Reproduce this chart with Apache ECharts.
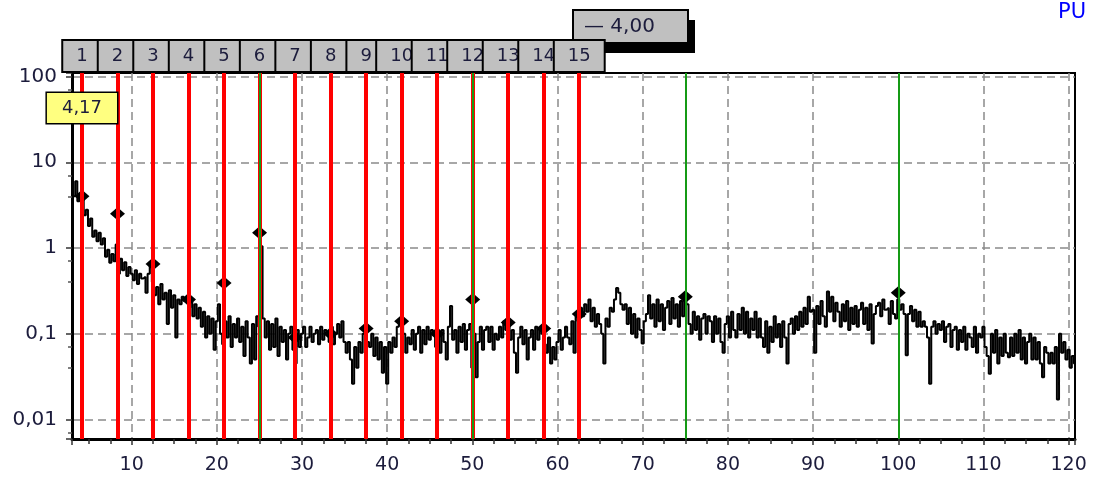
<!DOCTYPE html>
<html><head><meta charset="utf-8">
<script src="https://cdn.jsdelivr.net/npm/echarts@6/dist/echarts.min.js"></script>
<style>html,body{margin:0;padding:0;background:#fff;overflow:hidden}#c{width:1094px;height:485px}</style>
</head><body><div id="c"></div>
<script>
// Spectrum: frequency bins start at FREQ_START, spaced FREQ_STEP
const FREQ_START = 3.0;
const FREQ_STEP = 0.25;
const SPECTRUM = [
  5.5, 4.0, 6.0, 3.5, 4.2, 3.8, 2.4, 2.8, 1.8, 2.2, 1.35, 1.6, 1.2, 1.5, 1.1, 1.3, 0.79, 0.95, 0.67, 0.85,
  0.7, 1.1, 0.5, 0.75, 0.55, 0.68, 0.47, 0.6, 0.5, 0.42, 0.55, 0.38, 0.5, 0.44, 0.46, 0.3, 0.5, 0.65, 0.4, 0.28,
  0.35, 0.22, 0.38, 0.25, 0.3, 0.13, 0.32, 0.2, 0.28, 0.09, 0.25, 0.22, 0.27, 0.24, 0.26, 0.2, 0.25, 0.16, 0.22, 0.15,
  0.2, 0.12, 0.18, 0.09, 0.16, 0.1, 0.15, 0.065, 0.14, 0.22, 0.1, 0.075, 0.14, 0.09, 0.16, 0.07, 0.13, 0.09, 0.15, 0.08,
  0.12, 0.055, 0.14, 0.09, 0.045, 0.13, 0.05, 0.16, 0.12, 1.05, 0.15, 0.09, 0.14, 0.065, 0.13, 0.07, 0.15, 0.055, 0.12, 0.08,
  0.11, 0.05, 0.1, 0.12, 0.065, 0.045, 0.11, 0.07, 0.1, 0.12, 0.07, 0.09, 0.12, 0.08, 0.1, 0.11, 0.075, 0.12, 0.085, 0.11,
  0.1, 0.08, 0.12, 0.075, 0.1, 0.13, 0.09, 0.14, 0.08, 0.06, 0.08, 0.05, 0.026, 0.07, 0.04, 0.08, 0.06, 0.1, 0.12, 0.08,
  0.07, 0.1, 0.055, 0.09, 0.05, 0.08, 0.035, 0.07, 0.026, 0.08, 0.06, 0.09, 0.07, 0.12, 0.14, 0.13, 0.1, 0.06, 0.09, 0.075,
  0.11, 0.065, 0.1, 0.12, 0.06, 0.11, 0.075, 0.12, 0.085, 0.11, 0.1, 0.07, 0.1, 0.06, 0.11, 0.08, 0.05, 0.12, 0.21, 0.085,
  0.11, 0.06, 0.12, 0.08, 0.13, 0.065, 0.11, 0.13, 0.04, 0.1, 0.031, 0.08, 0.12, 0.065, 0.11, 0.12, 0.08, 0.12, 0.065, 0.1,
  0.085, 0.12, 0.09, 0.14, 0.11, 0.13, 0.085, 0.11, 0.06, 0.035, 0.09, 0.12, 0.075, 0.11, 0.05, 0.09, 0.11, 0.065, 0.12, 0.085,
  0.11, 0.1, 0.075, 0.06, 0.09, 0.045, 0.07, 0.05, 0.08, 0.11, 0.065, 0.09, 0.12, 0.09, 0.075, 0.14, 0.06, 0.17, 0.14, 0.2,
  0.16, 0.22, 0.18, 0.25, 0.14, 0.2, 0.12, 0.17, 0.13, 0.1, 0.045, 0.15, 0.12, 0.2, 0.18, 0.25, 0.34, 0.3, 0.22, 0.19,
  0.22, 0.13, 0.2, 0.1, 0.17, 0.09, 0.15, 0.11, 0.077, 0.14, 0.17, 0.28, 0.15, 0.22, 0.12, 0.25, 0.14, 0.22, 0.11, 0.2,
  0.24, 0.13, 0.26, 0.15, 0.22, 0.12, 0.24, 0.16, 0.27, 0.22, 0.13, 0.1, 0.18, 0.11, 0.16, 0.085, 0.15, 0.17, 0.1, 0.16,
  0.14, 0.08, 0.16, 0.1, 0.15, 0.08, 0.06, 0.13, 0.16, 0.09, 0.18, 0.11, 0.09, 0.17, 0.11, 0.2, 0.1, 0.18, 0.09, 0.15,
  0.11, 0.18, 0.09, 0.15, 0.09, 0.07, 0.14, 0.06, 0.12, 0.08, 0.16, 0.09, 0.13, 0.07, 0.14, 0.09, 0.045, 0.13, 0.15, 0.1,
  0.16, 0.11, 0.18, 0.12, 0.2, 0.13, 0.27, 0.18, 0.19, 0.06, 0.21, 0.13, 0.24, 0.16, 0.12, 0.31, 0.18, 0.27, 0.14, 0.23,
  0.18, 0.12, 0.22, 0.14, 0.24, 0.11, 0.2, 0.13, 0.21, 0.12, 0.19, 0.23, 0.13, 0.2, 0.11, 0.22, 0.077, 0.17, 0.21, 0.23,
  0.16, 0.25, 0.19, 0.2, 0.13, 0.24, 0.17, 0.15, 0.25, 0.19, 0.22, 0.17, 0.056, 0.17, 0.21, 0.14, 0.19, 0.12, 0.18, 0.12,
  0.14, 0.12, 0.09, 0.026, 0.12, 0.14, 0.1, 0.13, 0.11, 0.14, 0.08, 0.12, 0.13, 0.07, 0.11, 0.12, 0.065, 0.11, 0.08, 0.12,
  0.065, 0.1, 0.09, 0.07, 0.12, 0.06, 0.1, 0.09, 0.12, 0.07, 0.055, 0.034, 0.1, 0.06, 0.11, 0.045, 0.09, 0.055, 0.1, 0.06,
  0.053, 0.09, 0.055, 0.1, 0.06, 0.11, 0.05, 0.09, 0.045, 0.08, 0.1, 0.05, 0.09, 0.05, 0.08, 0.045, 0.031, 0.07, 0.06, 0.045,
  0.06, 0.045, 0.07, 0.017, 0.1, 0.06, 0.08, 0.05, 0.065, 0.04, 0.055, 0.045
];

// Harmonic cursor lines (red) and their labels / peak readings
const HARMONICS = [4.17, 8.34, 12.51, 16.68, 20.85, 25.02, 29.19, 33.36, 37.53, 41.70, 45.87, 50.04, 54.21, 58.38, 62.55];
const HARMONIC_LABELS = ['1','2','3','4','5','6','7','8','9','10','11','12','13','14','15'];
const HARMONIC_PEAKS = [4.0, 2.5, 0.65, 0.25, 0.39, 1.5, 0.09, 0.1, 0.115, 0.14, 0.1, 0.25, 0.135, 0.115, 0.17];

// Green reference lines and their peak markers
const GREEN_LINES = [25, 50, 75, 100];
const GREEN_MARK_X = [75, 100];
const GREEN_MARK_Y = [0.27, 0.3];

// Axis tick labels
const Y_TICK_LABELS = {'-2': '0,01', '-1': '0,1', '0': '1', '1': '10', '2': '100'};
const X_TICK_VALUES = [10, 20, 30, 40, 50, 60, 70, 80, 90, 100, 110, 120];

// Readouts
const CURSOR_FREQ = HARMONICS[0];
const CURSOR_VALUE_TEXT = '— 4,00';
const CORNER_TEXT = 'PU';

const FONT = 'DejaVu Sans';
const TXT = '#1c1c3c';

const chart = echarts.init(document.getElementById('c'), null, {renderer: 'canvas'});

const spectrumData = SPECTRUM.map((v, i) => [FREQ_START + i * FREQ_STEP, v]);
const markerData = HARMONICS.map((h, i) => [h, HARMONIC_PEAKS[i]])
  .concat(GREEN_MARK_X.map((x, i) => [x, GREEN_MARK_Y[i]]));

const option = {
  animation: false,
  grid: {left: 72, right: 19, top: 73, bottom: 46, show: true, borderColor: '#000', borderWidth: 2, backgroundColor: 'transparent'},
  xAxis: {
    type: 'value', min: 3, max: 120.75, splitNumber: 12,
    axisLine: {show: true, onZero: false, lineStyle: {color: '#000', width: 3}},
    axisTick: {show: true, inside: false, length: 6, lineStyle: {color: '#333', width: 1.5}},
    minorTick: {show: true, splitNumber: 4, length: 5, lineStyle: {color: '#333', width: 1.5}},
    splitLine: {show: true, showMinLine: false, showMaxLine: false, lineStyle: {color: '#8a8a8a', width: 1.5, type: [8, 5]}},
    axisLabel: {
      showMinLabel: false, showMaxLabel: false, margin: 17,
      fontFamily: FONT, fontSize: 19, color: TXT,
      formatter: v => X_TICK_VALUES.indexOf(Math.round(v * 100) / 100) >= 0 ? String(Math.round(v)) : ''
    }
  },
  yAxis: {
    type: 'log', logBase: 10, min: 0.0059, max: 110,
    axisLine: {show: true, onZero: false, lineStyle: {color: '#000', width: 3}},
    axisTick: {show: true, inside: false, length: 6, lineStyle: {color: '#333', width: 1.5}},
    minorTick: {show: true, splitNumber: 3, length: 4, lineStyle: {color: '#555', width: 1.5}},
    splitLine: {show: true, showMinLine: false, showMaxLine: false, lineStyle: {color: '#8a8a8a', width: 1.5, type: [8, 5]}},
    axisLabel: {
      showMinLabel: false, showMaxLabel: false, margin: 15,
      fontFamily: FONT, fontSize: 20, color: TXT,
      formatter: v => {
        const e = Math.log10(v);
        if (Math.abs(e - Math.round(e)) > 1e-6) return '';
        return Y_TICK_LABELS[String(Math.round(e))] || '';
      }
    }
  },
  graphic: [
    {type: 'rect', z: 0, shape: {x: 580, y: 20, width: 115, height: 33}, style: {fill: '#000'}},
    {type: 'rect', z: 0, shape: {x: 573, y: 10, width: 115, height: 33}, style: {fill: '#c0c0c0', stroke: '#000', lineWidth: 2}},
    {type: 'text', z: 0, x: 584, y: 27, style: {text: CURSOR_VALUE_TEXT, font: '20px "DejaVu Sans"', fill: TXT, verticalAlign: 'middle'}},
    {type: 'text', z: 0, x: 1058, y: 2, style: {text: CORNER_TEXT, font: '21px "DejaVu Sans"', fill: '#0000ff'}}
  ],
  series: [
    {
      name: 'harmonics', type: 'line', data: [], z: 2, silent: true,
      markLine: {
        silent: true, symbol: 'none', animation: false,
        lineStyle: {color: '#ff0000', width: 4, type: 'solid'},
        label: {
          show: true, position: 'end', distance: 2, formatter: '{b}',
          fontFamily: FONT, fontSize: 18, color: TXT, lineHeight: 20,
          backgroundColor: '#c0c0c0', borderColor: '#000', borderWidth: 2, padding: [5, 13]
        },
        emphasis: {disabled: true},
        data: HARMONICS.map((h, i) => ({xAxis: h, name: HARMONIC_LABELS[i]}))
      }
    },
    {
      name: 'reference', type: 'line', data: [], z: 2, silent: true,
      markLine: {
        silent: true, symbol: 'none', animation: false,
        lineStyle: {color: '#159a15', width: 2, type: 'solid'},
        label: {show: false},
        emphasis: {disabled: true},
        data: GREEN_LINES.map(x => ({xAxis: x}))
      }
    },
    {
      name: 'spectrum', type: 'line', data: spectrumData, z: 3,
      showSymbol: false, symbol: 'none', step: 'middle',
      lineStyle: {color: '#000', width: 2},
      silent: true
    },
    {
      name: 'peaks', type: 'scatter', data: markerData, z: 4,
      symbol: 'diamond', symbolSize: [15, 13],
      itemStyle: {color: '#000', borderWidth: 0, opacity: 1},
      emphasis: {disabled: true},
      silent: true,
      markPoint: {
        silent: true, symbol: 'rect', symbolSize: 0,
        data: [{coord: [CURSOR_FREQ, 43], value: CURSOR_FREQ}],
        label: {
          show: true, position: 'inside',
          formatter: () => CURSOR_FREQ.toFixed(2).replace('.', ','),
          fontFamily: FONT, fontSize: 18, color: TXT, lineHeight: 20,
          backgroundColor: '#ffff80', borderColor: '#000', borderWidth: 1.5, padding: [5, 15]
        }
      }
    }
  ]
};
chart.setOption(option);
</script>
</body></html>
